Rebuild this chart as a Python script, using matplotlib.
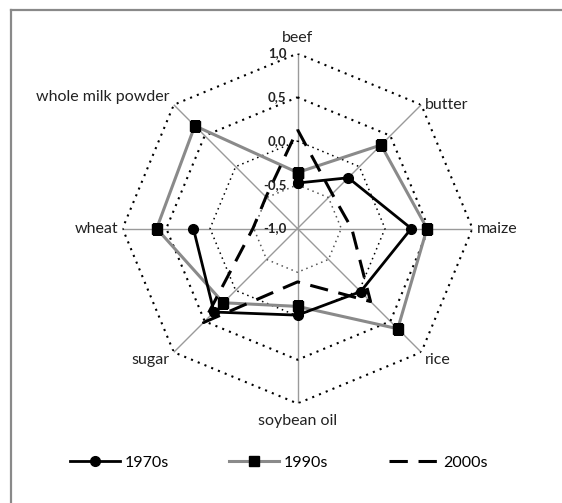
import numpy as np
import matplotlib
matplotlib.use("Agg")
import matplotlib.pyplot as plt
from matplotlib.transforms import offset_copy

plt.rcParams['font.family'] = ['Lato', 'DejaVu Sans']

categories = ['beef', 'butter', 'maize', 'rice', 'soybean oil', 'sugar', 'wheat', 'whole milk powder']
s1970 = [-0.48, -0.18, 0.30, 0.02, -0.01, 0.35, 0.19, np.nan]
s1990 = [-0.36, 0.35, 0.48, 0.62, -0.11, 0.20, 0.61, 0.66]
s2000 = [0.13, -0.44, -0.38, 0.18, -0.39, 0.52, -0.49, -0.49]
rings = [-0.5, 0.0, 0.5, 1.0]
tick_vals = [1.0, 0.5, 0.0, -0.5, -1.0]
tick_labels = ['1,0', '0,5', '0,0', '-0,5', '-1,0']

n = len(categories)
theta = np.linspace(0, 2*np.pi, n, endpoint=False)
theta_c = np.append(theta, theta[0])

fig = plt.figure(figsize=(5.62, 5.03), dpi=100)
ax = fig.add_axes([0.218, 0.1978, 0.6228, 0.6958], projection='polar')
ax.set_theta_offset(np.pi/2)
ax.set_theta_direction(-1)
ax.set_ylim(-1, 1)
ax.grid(False)
ax.set_xticks([])
ax.set_yticks([])
ax.spines['polar'].set_visible(False)
ax.patch.set_visible(False)

# spokes
for t in theta:
    ax.plot([t, t], [-1, 1], color='#9a9a9a', lw=1, zorder=1)
# octagon rings
for r in rings:
    lw = 1.5 if r >= 0.5 else 1.1
    col = 'black' if r >= 0 else '#555555'
    ax.plot(theta_c, [r]*(n+1), color=col, lw=lw, ls=(0, (1, 2.5)), zorder=1)

def closed(v):
    return np.append(v, v[0])

ax.plot(theta_c, closed(s1970), color='black', lw=2, marker='o', ms=7, zorder=4, label='1970s')
ax.plot(theta_c, closed(s1990), color='#8a8a8a', lw=2.2, marker='s', ms=6.5,
        mfc='black', mec='black', zorder=3, label='1990s')
ax.plot(theta_c, closed(s2000), color='black', lw=2.2, ls=(0, (6, 3.5)), zorder=5, label='2000s')

# value labels along the beef axis
tr = offset_copy(ax.transData, fig=fig, x=-11, y=0, units='dots')
for v, lab in zip(tick_vals, tick_labels):
    ax.text(0, v, lab, transform=tr, ha='right', va='center', fontsize=9.5,
            fontweight='bold', color='#222222', zorder=6)

# category labels
aligns = [('center', 'bottom'), ('left', 'center'), ('left', 'center'), ('left', 'top'),
          ('center', 'top'), ('right', 'top'), ('right', 'center'), ('right', 'bottom')]
offs = [(0, 9), (4, 0), (4, 0), (4, -1), (0, -10), (-4, -1), (-4, 0), (-4, 1)]
for t, lab, (ha, va), (dx, dy) in zip(theta, categories, aligns, offs):
    trc = offset_copy(ax.transData, fig=fig, x=dx, y=dy, units='dots')
    ax.text(t, 1.0, lab, transform=trc, ha=ha, va=va, fontsize=11.5, color='#222222')

fig.legend(loc='center', bbox_to_anchor=(0.496, 0.08), ncol=3, frameon=False,
           fontsize=11.5, handlelength=3.1, handletextpad=0.3, columnspacing=3.8)

# chart area border (top and left visible)
fig.add_artist(plt.Line2D([11/562, 11/562], [0, 1 - 10/503], transform=fig.transFigure,
                          color='#898989', lw=1.6))
fig.add_artist(plt.Line2D([11/562, 1], [1 - 10/503, 1 - 10/503], transform=fig.transFigure,
                          color='#898989', lw=1.6))

fig.savefig('out.png', dpi=100)
